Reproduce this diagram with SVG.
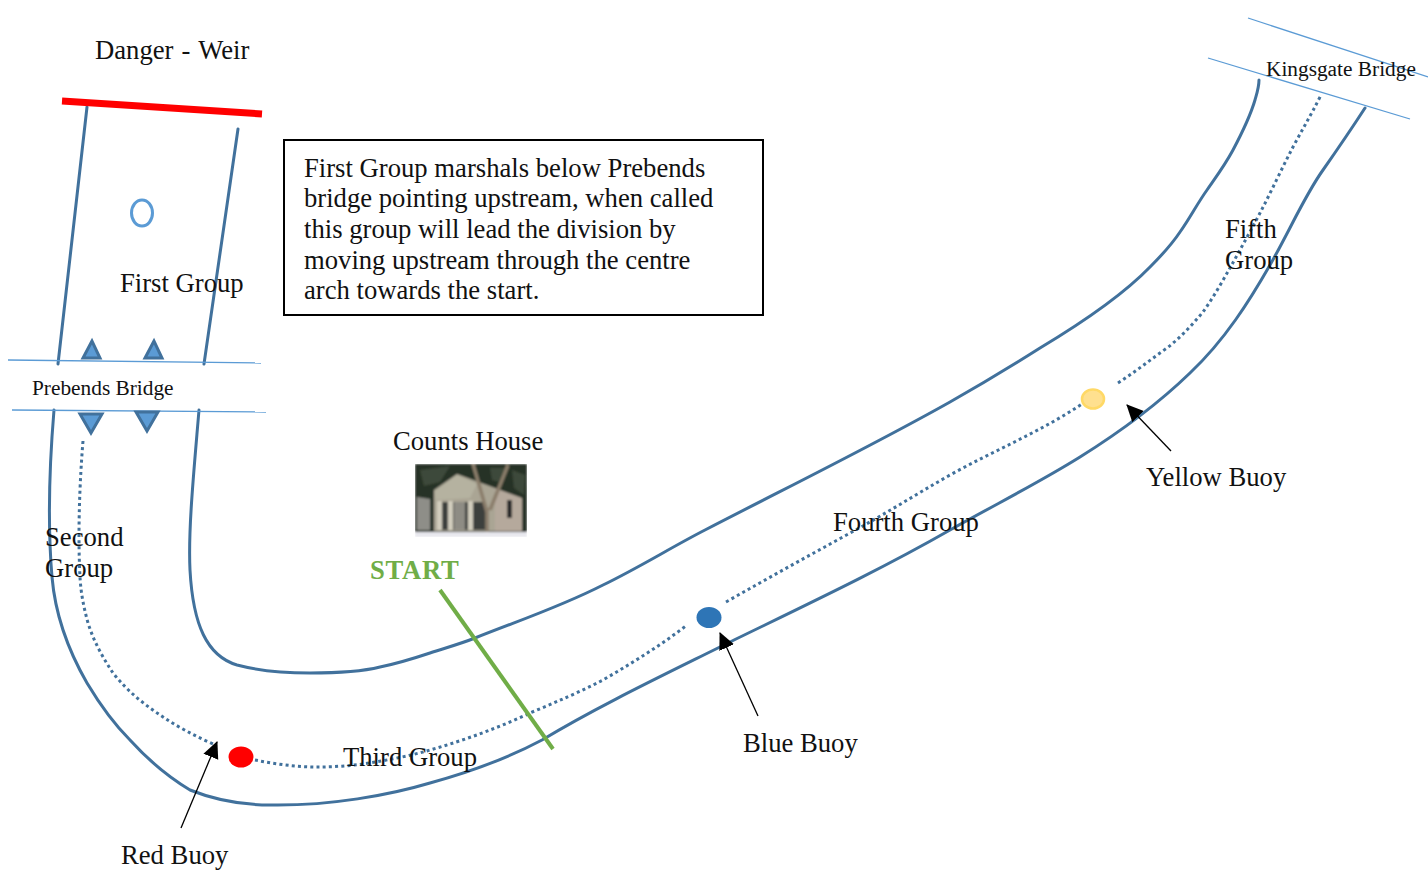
<svg xmlns="http://www.w3.org/2000/svg" width="1428" height="871" viewBox="0 0 1428 871">
<style>
text{font-family:"Liberation Serif","Times New Roman",serif;font-size:26.67px;fill:#111}
.small{font-size:21.33px}
.bank{fill:none;stroke:#41719c;stroke-width:3;stroke-linecap:round}
.bridge{fill:none;stroke:#5b9bd5;stroke-width:1.3}
.course{fill:none;stroke:#41719c;stroke-width:3;stroke-dasharray:3 3.2}
.tri{fill:#5b9bd5;stroke:#41719c;stroke-width:3}
.lead{stroke:#000;stroke-width:1.3;fill:none;marker-end:url(#arrow)}
</style>
<defs>
<marker id="arrow" markerUnits="userSpaceOnUse" markerWidth="18" markerHeight="18" refX="16" refY="8" orient="auto"><path d="M0 0L17 8L0 16Z" fill="#000"/></marker>
<filter id="soft" x="0" y="0" width="1" height="1"><feGaussianBlur stdDeviation="0.9"/></filter>
</defs>
<g id="connectors">
<path class="bank" d="M87 107L58 364"/>
<path class="bank" d="M238 129L204 364"/>
<path class="bank" d="M54 410C49 470 48 530 52 577C55 612 68 650 87 683C102 708 116 726 130 740C150 762 170 778 190 790C215 800 245 805 270 805C330 806 390 795 430 783C470 772 510 757 542 740C600 705 670 672 734 640C810 603 880 570 950 530C1000 502 1040 482 1080 457C1120 432 1160 402 1190 373C1225 340 1250 300 1270 265C1290 230 1305 195 1323 170C1337 150 1352 128 1365 108"/>
<path class="bank" d="M199 410C194 470 188 530 190 570C193 625 207 656 237 665C260 671 285 673 310 673C335 673 360 672 380 667C400 663 415 658 430 653C445 648 460 644 475 638C520 620 560 607 603 585C640 567 670 548 705 530C790 486 870 447 950 402C980 385 1010 367 1040 348C1070 330 1120 298 1150 267C1162 255 1172 244 1180 232C1190 218 1197 204 1207 190C1216 177 1225 165 1233 150C1242 133 1250 117 1255 100C1257 93 1259 87 1259 80"/>
<path class="course" d="M83 441C79 490 78 540 80 577C81 595 84 608 88 623C94 642 103 658 113 673C128 692 145 705 163 717C178 727 195 736 213 744"/>
<path class="course" d="M255 760C275 764 296 767 317 767C332 767 348 766 363 764C388 760 410 756 430 750C465 740 498 728 530 713C556 702 580 692 603 680C632 663 660 646 687 625"/>
<path class="course" d="M726 602C770 577 810 555 852 532C885 514 915 495 950 475C995 450 1040 432 1082 404"/>
<path class="course" d="M1118 383C1135 372 1150 360 1167 348C1180 338 1192 325 1203 312C1213 298 1222 282 1230 268C1240 250 1250 232 1260 213C1271 192 1282 168 1293 147C1302 130 1310 117 1321 95"/>
<path class="lead" d="M181 828L217 742"/>
<path class="lead" d="M758 716L720 633"/>
<path class="lead" d="M1171 451L1127 405"/>
</g>
<g id="danger-weir"><path d="M62 101L262 114" stroke="#f00" stroke-width="7" fill="none"/><text x="95" y="59" word-spacing="1.500">Danger - Weir</text></g>
<g id="first-group"><ellipse cx="142" cy="213" rx="10.500" ry="13" fill="none" stroke="#5b9bd5" stroke-width="3"/><text x="120" y="292">First Group</text></g>
<g id="note"><rect x="284" y="140" width="479" height="175" fill="#fff" stroke="#000" stroke-width="2"/>
<text x="304" y="177">First Group marshals below Prebends</text>
<text x="304" y="207">bridge pointing upstream, when called</text>
<text x="304" y="238">this group will lead the division by</text>
<text x="304" y="269">moving upstream through the centre</text>
<text x="304" y="299">arch towards the start.</text></g>
<g id="prebends-bridge">
<path class="bridge" d="M8 360L261 363"/><path class="bridge" d="M12 410L266 412"/>
<path class="tri" d="M92 341L83 358L100 358Z"/><path class="tri" d="M154 341L145 358L162 358Z"/>
<path class="tri" d="M80 414L102 414L91 433Z"/><path class="tri" d="M136 412L158 412L147 431Z"/>
<text x="32" y="395" class="small">Prebends Bridge</text></g>
<g id="kingsgate-bridge"><path class="bridge" d="M1248 18L1428 77"/><path class="bridge" d="M1208 58L1410 119"/>
<text x="1266" y="76" class="small">Kingsgate Bridge</text></g>
<g id="counts-house"><text x="393" y="450">Counts House</text>
<g filter="url(#soft)">
<rect x="415" y="464" width="112" height="69" fill="#263126"/>
<path d="M420 470L450 466L440 482L424 486ZM490 468L505 468L499 482L492 480ZM512 470L525 475L524 495L514 488Z" fill="#3d4a3a"/>
<path d="M417 497L430 499V530H417Z" fill="#8e8e88"/>
<path d="M434 490L457 474L495 488L495 531H434Z" fill="#aaa594"/>
<path d="M435 491L457 475L477 484L470 498L436 500Z" fill="#b5b2a0"/>
<path d="M495 488L522 498V531H495Z" fill="#b5a99c"/>
<path d="M441 502H486V530H441Z" fill="#3e3f3c"/>
<path d="M454 502H465V530H454Z" fill="#8e8c84"/>
<path d="M437 501H442V530H437ZM448 501H453V530H448ZM468 501H473V530H468Z" fill="#d2cdbd"/>
<rect x="507" y="500" width="5" height="18" fill="#2c2c2c"/>
<path d="M473 464L487 512M508 465L490 510M487 508V536" stroke="#8a7d6a" stroke-width="3.500" fill="none"/>
<rect x="415" y="532" width="112" height="5" fill="#e8e8ee"/>
</g></g>
<g id="start"><path d="M440 590L553 749" stroke="#70ad47" stroke-width="4" fill="none"/><text x="370" y="578.500" style="font-weight:700;fill:#70ad47;letter-spacing:.7px">START</text></g>
<g id="second-group"><text x="45" y="546">Second</text><text x="45" y="577">Group</text></g>
<g id="third-group"><text x="343" y="766">Third Group</text></g>
<g id="fourth-group"><text x="833" y="531">Fourth Group</text></g>
<g id="fifth-group"><text x="1225" y="238">Fifth</text><text x="1225" y="269">Group</text></g>
<g id="red-buoy"><ellipse cx="241" cy="757" rx="12.500" ry="10.500" fill="#f00"/><text x="121" y="864">Red Buoy</text></g>
<g id="blue-buoy"><ellipse cx="709" cy="617.500" rx="12.500" ry="10.500" fill="#2e75b6"/><text x="743" y="752">Blue Buoy</text></g>
<g id="yellow-buoy"><ellipse cx="1093" cy="399" rx="11" ry="9.500" fill="#ffe08f" stroke="#ffd966" stroke-width="2.500"/><text x="1146" y="486">Yellow Buoy</text></g>
</svg>
